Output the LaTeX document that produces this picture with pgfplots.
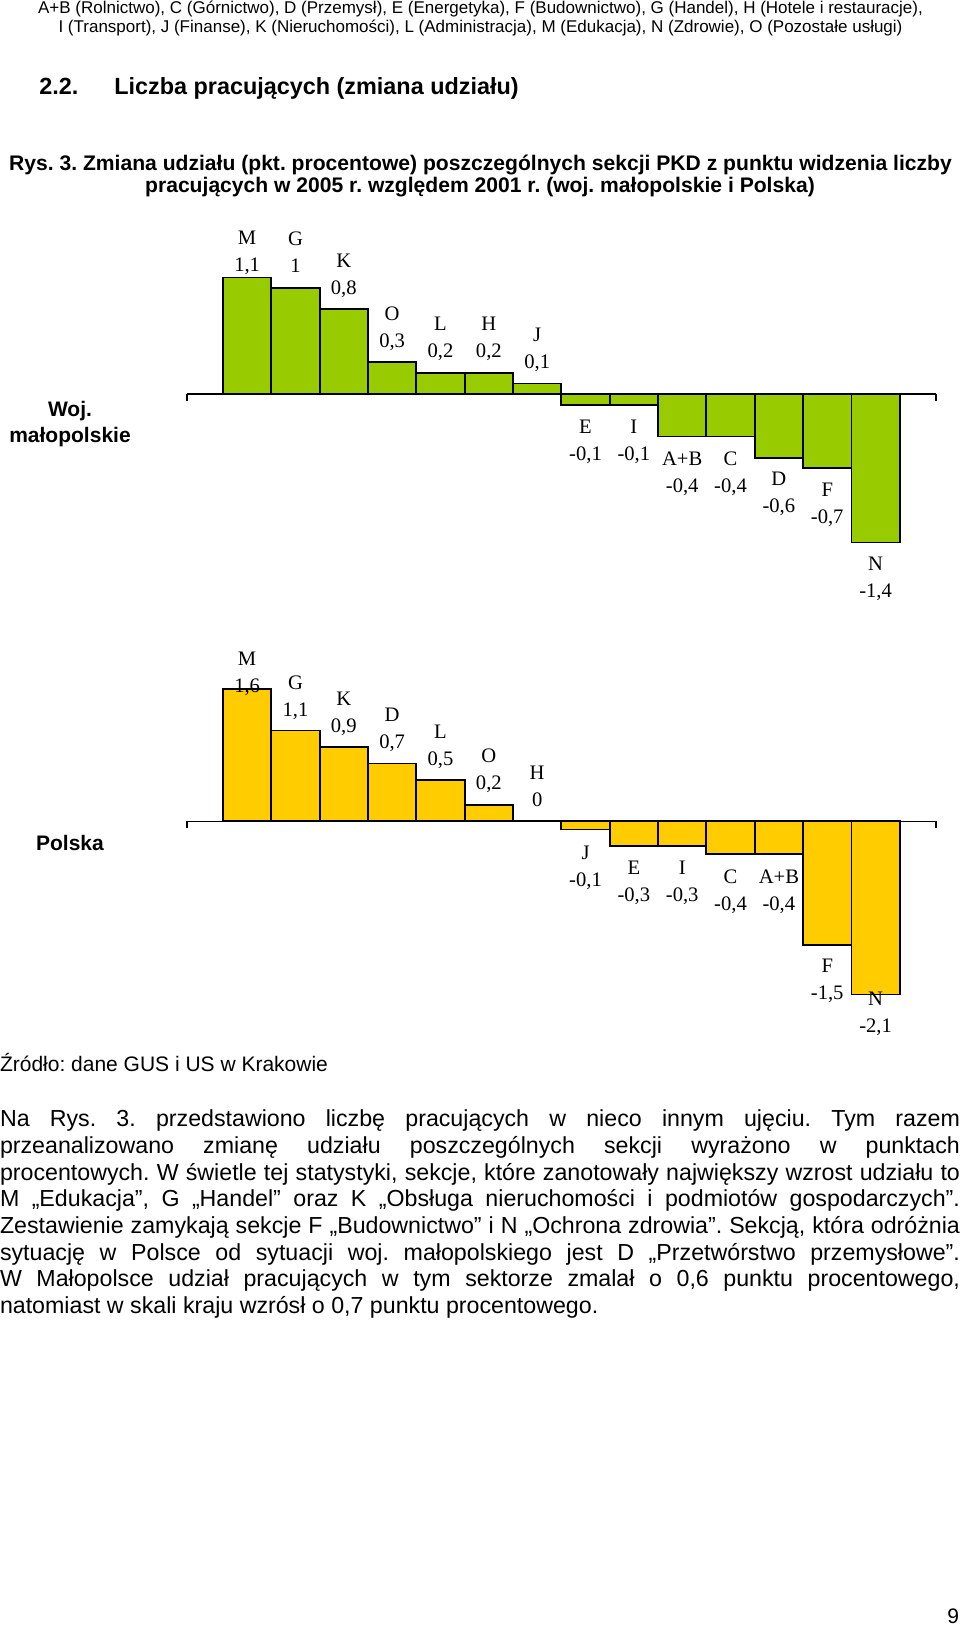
\documentclass[border=0pt]{standalone}
\usepackage{fontspec}
\setmainfont{Liberation Sans}
\newfontfamily\serif{Liberation Serif}
\usepackage{pgfplots}
\usepackage{pgfplotstable}
\pgfplotsset{compat=1.18}
\definecolor{grn}{HTML}{99CC00}
\definecolor{ylw}{HTML}{FFCC00}
\frenchspacing

% two-line bar label (letter over value), zero-size box centred on the point
\newcommand\labbox[2]{\raisebox{0pt}[0pt][0pt]{\makebox[0pt]{%
  \raisebox{3.45pt}{\makebox[0pt]{#1}}\raisebox{-10.05pt}{\makebox[0pt]{#2}}}}}

% x = position, y = change (pp), nm = section, sh = label offset (px)
\pgfplotstableread{
x y nm sh
0 1.1 M 25.5
1 1.0 G 34.5
2 0.8 K 34
3 0.3 O 34
4 0.2 L 34
5 0.2 H 34
6 0.1 J 34
7 -0.1 E -37
8 -0.1 I -37
9 -0.4 A+B -36.5
10 -0.4 C -36.5
11 -0.6 D -36
12 -0.7 F -36
13 -1.4 N -36
}\malop

\pgfplotstableread{
x y nm sh
0 1.6 M 16.3
1 1.1 G 33.3
2 0.9 K 33.3
3 0.7 D 34
4 0.5 L 34
5 0.2 O 34.5
6 0 H 33.5
7 -0.1 J -37.4
8 -0.3 E -36.6
9 -0.3 I -36.6
10 -0.4 C -37
11 -0.4 A+B -37
12 -1.5 F -35.6
13 -2.1 N -19
}\polska

\pgfplotsset{
  barchart/.style={
    scale only axis, anchor=south west,
    width=374.65pt,
    xmin=-1.25, xmax=14.25,
    hide axis, clip=false,
  },
  bars/.style={
    ybar, bar width=1, draw=black, line width=0.9pt, fill=#1,
    point meta=explicit symbolic,
    visualization depends on={\thisrow{y} \as \myy},
    visualization depends on={\thisrow{sh} \as \myshift},
    nodes near coords={\labbox{\pgfplotspointmeta}{\pgfmathprintnumber[use comma, fixed, precision=1, assume math mode=true]{\myy}}},
    every node near coord/.append style={
      font=\serif\fontsize{10.3}{12}\selectfont, text=black,
      inner sep=0pt, outer sep=0pt, yshift=\myshift*0.5pt},
  },
}

\begin{document}
\begin{tikzpicture}

% Woj. malopolskie
\begin{axis}[barchart, at={(93.35pt,-276.5pt)}, height=159pt, ymin=-1.5, ymax=1.5]
\addplot[bars=grn] table[x=x, y=y, meta=nm] {\malop};
\draw[line width=0.8pt] (axis cs:-1.25,0) -- (axis cs:14.25,0);
\draw[line width=0.8pt] (axis cs:-1.25,0) -- ++(0pt,-3.5pt);
\draw[line width=0.8pt] (axis cs:14.25,0) -- ++(0pt,-3.5pt);
\end{axis}

% Polska
\begin{axis}[barchart, at={(93.35pt,-513.78pt)}, height=185.63pt, ymin=-2.5, ymax=2]
\addplot[bars=ylw] table[x=x, y=y, meta=nm] {\polska};
\draw[line width=0.8pt] (axis cs:-1.25,0) -- (axis cs:14.25,0);
\draw[line width=0.8pt] (axis cs:-1.25,0) -- ++(0pt,-3.5pt);
\draw[line width=0.8pt] (axis cs:14.25,0) -- ++(0pt,-3.5pt);
\end{axis}

\begin{scope}[x=0.5pt, y=-0.5pt, inner sep=0pt, outer sep=0pt]
\node[anchor=base, font=\fontsize{8.5}{10}\selectfont] at (480.5,13.3)
  {A+B (Rolnictwo), C (Górnictwo), D (Przemysł), E (Energetyka), F (Budownictwo), G (Handel), H (Hotele i restauracje),};
\node[anchor=base, font=\fontsize{8.5}{10}\selectfont] at (480.5,32.3)
  {I (Transport), J (Finanse), K (Nieruchomości), L (Administracja), M (Edukacja), N (Zdrowie), O (Pozostałe usługi)};

\node[anchor=base west, font=\bfseries\fontsize{11.7}{14}\selectfont] at (39.3,95) {2.2.};
\node[anchor=base west, font=\bfseries\fontsize{11.7}{14}\selectfont] at (114.3,95) {Liczba pracujących (zmiana udziału)};

\node[anchor=base, font=\bfseries\fontsize{10.55}{12}\selectfont] at (480.5,170)
  {Rys. 3. Zmiana udziału (pkt. procentowe) poszczególnych sekcji PKD z punktu widzenia liczby};
\node[anchor=base, font=\bfseries\fontsize{10.55}{12}\selectfont] at (480,192.7)
  {pracujących w 2005 r. względem 2001 r. (woj. małopolskie i Polska)};

\node[anchor=base, font=\bfseries\fontsize{10.5}{12}\selectfont] at (70,416.7) {Woj.};
\node[anchor=base, font=\bfseries\fontsize{10.5}{12}\selectfont] at (70,442) {małopolskie};
\node[anchor=base, font=\bfseries\fontsize{10.5}{12}\selectfont] at (70,850) {Polska};

\node[anchor=base west, font=\fontsize{10.5}{12}\selectfont] at (0,1071.7) {Źródło: dane GUS i US w Krakowie};

\begin{scope}[font=\fontsize{11.6}{13}\selectfont, anchor=base west]
\node at (0,1126.7) {\makebox[480pt][s]{Na Rys. 3. przedstawiono liczbę pracujących w nieco innym ujęciu. Tym razem}};
\node at (0,1153.4) {\makebox[480pt][s]{przeanalizowano zmianę udziału poszczególnych sekcji wyrażono w punktach}};
\node at (0,1180.1) {\makebox[480pt][s]{procentowych. W świetle tej statystyki, sekcje, które zanotowały największy wzrost udziału to}};
\node at (0,1206.8) {\makebox[480pt][s]{M „Edukacja”, G „Handel” oraz K „Obsługa nieruchomości i podmiotów gospodarczych”.}};
\node at (0,1233.5) {\makebox[480pt][s]{Zestawienie zamykają sekcje F „Budownictwo” i N „Ochrona zdrowia”. Sekcją, która odróżnia}};
\node at (0,1260.2) {\makebox[480pt][s]{sytuację w Polsce od sytuacji woj. małopolskiego jest D „Przetwórstwo przemysłowe”.}};
\node at (0,1286.9) {\makebox[480pt][s]{W Małopolsce udział pracujących w tym sektorze zmalał o 0,6 punktu procentowego,}};
\node at (0,1313.6) {natomiast w skali kraju wzrósł o 0,7 punktu procentowego.};
\end{scope}

\node[anchor=base east, font=\fontsize{10.5}{12}\selectfont] at (959,1623) {9};
\end{scope}

\pgfresetboundingbox
\path[use as bounding box] (0pt,0pt) rectangle (480pt,-813.5pt);
\end{tikzpicture}
\end{document}
